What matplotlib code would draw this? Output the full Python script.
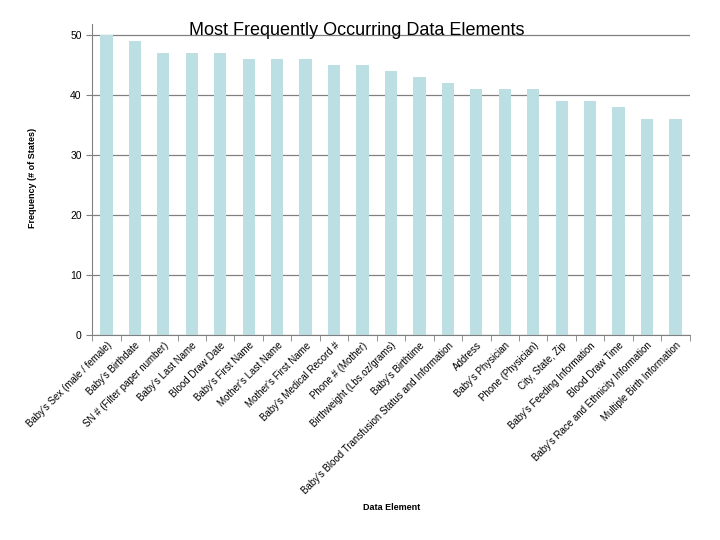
import matplotlib
matplotlib.use('Agg')
import matplotlib.pyplot as plt
import numpy as np

plt.rcParams['font.family'] = ['Liberation Sans', 'DejaVu Sans']

elements = [
    "Baby's Sex (male / female)", "Baby's Birthdate", "SN # (Filter paper number)",
    "Baby's Last Name", "Blood Draw Date", "Baby's First Name",
    "Mother's Last Name", "Mother's First Name", "Baby's Medical Record #",
    "Phone # (Mother)", "Birthweight (Lbs.oz/grams)", "Baby's Birthtime",
    "Baby's Blood Transfusion Status and Information", "Address",
    "Baby's Physician", "Phone (Physician)", "City, State, Zip",
    "Baby's Feeding Information", "Blood Draw Time",
    "Baby's Race and Ethnicity Information", "Multiple Birth Information",
]
frequency = [50, 49, 47, 47, 47, 46, 46, 46, 45, 45, 44, 43, 42, 41, 41, 41,
             39, 39, 38, 36, 36]

fig = plt.figure(figsize=(7.2, 5.4), dpi=100)
ax = fig.add_axes([0.128, 0.380, 0.830, 0.576])

x = np.arange(len(elements))
ax.bar(x, frequency, width=0.43, color='#bcdfe3', zorder=2)

ax.set_xlim(-0.5, len(elements) - 0.5)
ax.set_ylim(0, 51.8)
ax.set_yticks(range(0, 51, 10))
ax.yaxis.grid(True, color='#808080', linewidth=0.9, zorder=1)

ax.set_xticks(x)
ax.set_xticklabels(elements, rotation=45, ha='right', rotation_mode='anchor',
                   fontsize=7)
ax.set_xticks(np.arange(-0.5, len(elements), 1), minor=True)
ax.tick_params(axis='x', which='major', length=0, pad=4)
ax.tick_params(axis='x', which='minor', length=4, color='#808080')
ax.tick_params(axis='y', length=4, color='#808080', labelsize=7.5)

for side in ['top', 'right']:
    ax.spines[side].set_visible(False)
for side in ['left', 'bottom']:
    ax.spines[side].set_color('#808080')

fig.text(0.496, 0.944, 'Most Frequently Occurring Data Elements',
         ha='center', va='center', fontsize=13)
fig.text(0.045, 0.67, 'Frequency (# of States)', rotation=90,
         ha='center', va='center', fontsize=6.5, fontweight='bold')
fig.text(0.544, 0.061, 'Data Element', ha='center', va='center',
         fontsize=6.5, fontweight='bold')

fig.savefig('out.png', dpi=100)
